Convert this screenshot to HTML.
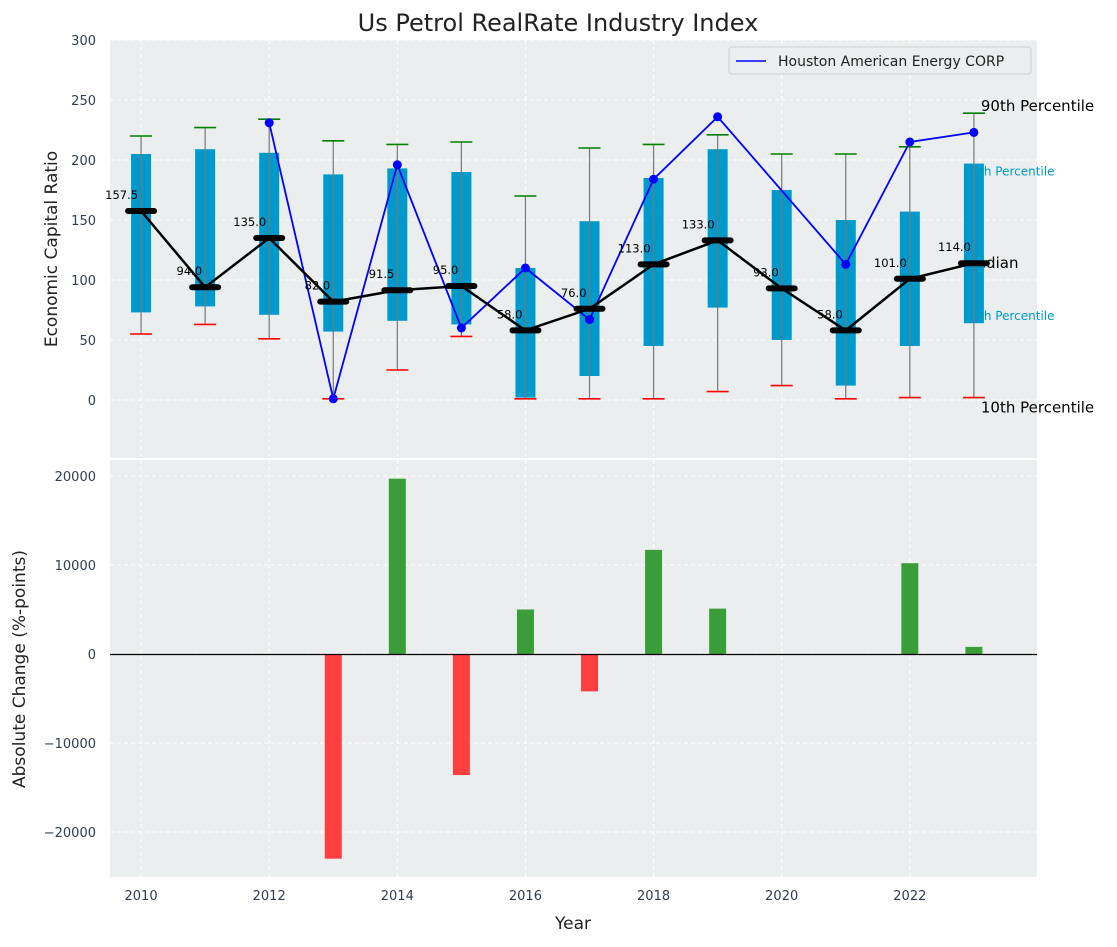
<!DOCTYPE html>
<html><head><meta charset="utf-8"><style>
body{margin:0;background:#fff;}
svg text{font-family:"DejaVu Sans","Liberation Sans",sans-serif;}
</style></head><body>
<svg id="chart" width="1117" height="942" xmlns="http://www.w3.org/2000/svg">
<text x="558" y="31" font-size="24" text-anchor="middle" fill="#222">Us Petrol RealRate Industry Index</text>
<rect x="110" y="40" width="927" height="418" fill="#ebeeee"/>
<rect x="110" y="460" width="927" height="417" fill="#ebeeee"/>
<g id="grid"></g>
<g id="top"></g>
<g id="bottom"></g>
<g id="axes"></g>
</svg>
<script>
const years=[2010,2011,2012,2013,2014,2015,2016,2017,2018,2019,2020,2021,2022,2023];
const q1=[73,78,71,57,66,63,2,20,45,77,50,12,45,64];
const q3=[205,209,206,188,193,190,110,149,185,209,175,150,157,197];
const p10=[55,63,51,1,25,53,1,1,1,7,12,1,2,2];
const p90=[220,227,234,216,213,215,170,210,213,221,205,205,211,239];
const medians=[157.5,94,135,82,91.5,95,58,76,113,133,93,58,101,114];
const company=[null,null,231,1,196,60,110,67,184,236,null,113,215,223];
const changes=[0,0,0,-23000,19700,-13600,5000,-4200,11700,5100,0,0,10200,800];
const yTicksTop=[0,50,100,150,200,250,300];
const yTicksBot=[-20000,-10000,0,10000,20000];
const xTicks=[2010,2012,2014,2016,2018,2020,2022];

const NS="http://www.w3.org/2000/svg";
const X=v=>110+(v-2009.515)*(927/14.47);
const Y1=v=>400-v*1.2;
const Y2=v=>654-v*(178/20000);
const TC='#2e3d4f';
function mk(p,tag,a,txt){const e=document.createElementNS(NS,tag);for(const k in a)e.setAttribute(k,a[k]);if(txt!==undefined)e.textContent=txt;p.appendChild(e);return e;}
const G=document.getElementById('grid'),T=document.getElementById('top'),B=document.getElementById('bottom'),A=document.getElementById('axes');

xTicks.forEach(t=>{
 let g=mk(G,'line',{x1:X(t),x2:X(t),y1:40,y2:458,stroke:'#fff','stroke-dasharray':'4,3'});
 
 g=mk(G,'line',{x1:X(t),x2:X(t),y1:460,y2:877,stroke:'#fff','stroke-dasharray':'4,3'});
 
 const l=mk(A,'text',{x:X(t),y:900,'font-size':13,'text-anchor':'middle',fill:TC},t);
 
});
yTicksTop.forEach(t=>{
 const g=mk(G,'line',{x1:110,x2:1037,y1:Y1(t),y2:Y1(t),stroke:'#fff','stroke-dasharray':'4,3'});
 
 const l=mk(A,'text',{x:96,y:Y1(t)+5,'font-size':13,'text-anchor':'end',fill:TC},t);
 
});
yTicksBot.forEach(t=>{
 const g=mk(G,'line',{x1:110,x2:1037,y1:Y2(t),y2:Y2(t),stroke:'#fff','stroke-dasharray':'4,3'});
 
 const l=mk(A,'text',{x:96,y:Y2(t)+5,'font-size':13,'text-anchor':'end',fill:TC},String(t).replace('-','\u2212'));
 
});

// annotations behind boxes
const last=years.length-1, cxl=X(years[last]);
[["90th Percentile",Y1(p90[last])-2,cxl+7,15,'#000'],["75th Percentile",Y1(q3[last])+12,cxl-10,12,'#0099cc'],["Median",Y1(medians[last])+5,cxl-10,15,'#000'],["25th Percentile",Y1(q1[last])-3,cxl-10,12,'#0099cc'],["10th Percentile",Y1(p10[last])+15,cxl+7,15,'#000']].forEach(a=>{
 const t=mk(T,'text',{x:a[2],y:a[1],'font-size':a[3],fill:a[4]},a[0]);
 
});

years.forEach((yr,i)=>{
 const cx=X(yr);
 const b=mk(T,'rect',{x:cx-10,y:Y1(q3[i]),width:20,height:Y1(q1[i])-Y1(q3[i]),fill:'#0099cc'});
 
 const w=mk(T,'line',{x1:cx,x2:cx,y1:Y1(p90[i]),y2:Y1(p10[i]),stroke:'#777','stroke-width':1.2});
 
 const ct=mk(T,'line',{x1:cx-11,x2:cx+11,y1:Y1(p90[i]),y2:Y1(p90[i]),stroke:'green','stroke-width':1.6});
 
 const cb=mk(T,'line',{x1:cx-11,x2:cx+11,y1:Y1(p10[i]),y2:Y1(p10[i]),stroke:'red','stroke-width':1.6});
 
});
let segs=[];years.forEach((yr,i)=>{if(company[i]!==null)segs.push(X(yr)+','+Y1(company[i]));});
const cl=mk(T,'polyline',{points:segs.join(' '),fill:'none',stroke:'blue','stroke-width':1.8});

years.forEach((yr,i)=>{if(company[i]===null)return;
 const d=mk(T,'circle',{cx:X(yr),cy:Y1(company[i]),r:4.5,fill:'blue'});
 });
const ml=mk(T,'polyline',{points:years.map((yr,i)=>X(yr)+','+Y1(medians[i])).join(' '),fill:'none',stroke:'#000','stroke-width':2.5});

years.forEach((yr,i)=>{
 const cx=X(yr),cy=Y1(medians[i]);
 const m=mk(T,'line',{x1:cx-13,x2:cx+13,y1:cy,y2:cy,stroke:'#000','stroke-width':6,'stroke-linecap':'round'});
 
 const t=mk(T,'text',{x:cx-3,y:cy-12,'font-size':11.5,'text-anchor':'end',fill:'#000'},medians[i].toFixed(1));
 
});
const lg=mk(T,'g',{});
mk(lg,'rect',{x:729,y:47,width:302,height:27,fill:'#ebeeee',stroke:'#ccc',rx:3});
mk(lg,'line',{x1:736,x2:766,y1:61,y2:61,stroke:'blue','stroke-width':1.6});
const lt=mk(lg,'text',{x:778,y:66,'font-size':14,fill:'#222'},'Houston American Energy CORP');


years.forEach((yr,i)=>{
 if(changes[i]===0)return;
 const cx=X(yr),v=changes[i];
 const r=mk(B,'rect',{x:cx-8.5,y:Math.min(Y2(v),Y2(0)),width:17,height:Math.abs(Y2(v)-Y2(0)),fill:v>0?'#3a9d3a':'#ff3f3f'});
 
});
const zl=mk(B,'line',{x1:110,x2:1037,y1:Y2(0)+0.5,y2:Y2(0)+0.5,stroke:'#000','stroke-width':1.2});


let t=mk(A,'text',{x:57,y:249,'font-size':17,'text-anchor':'middle',fill:'#222',transform:'rotate(-90 57 249)'},'Economic Capital Ratio');

t=mk(A,'text',{x:25,y:669,'font-size':17,'text-anchor':'middle',fill:'#222',transform:'rotate(-90 25 669)'},'Absolute Change (%-points)');

t=mk(A,'text',{x:573,y:929,'font-size':17,'text-anchor':'middle',fill:'#222'},'Year');

</script>
</body></html>
